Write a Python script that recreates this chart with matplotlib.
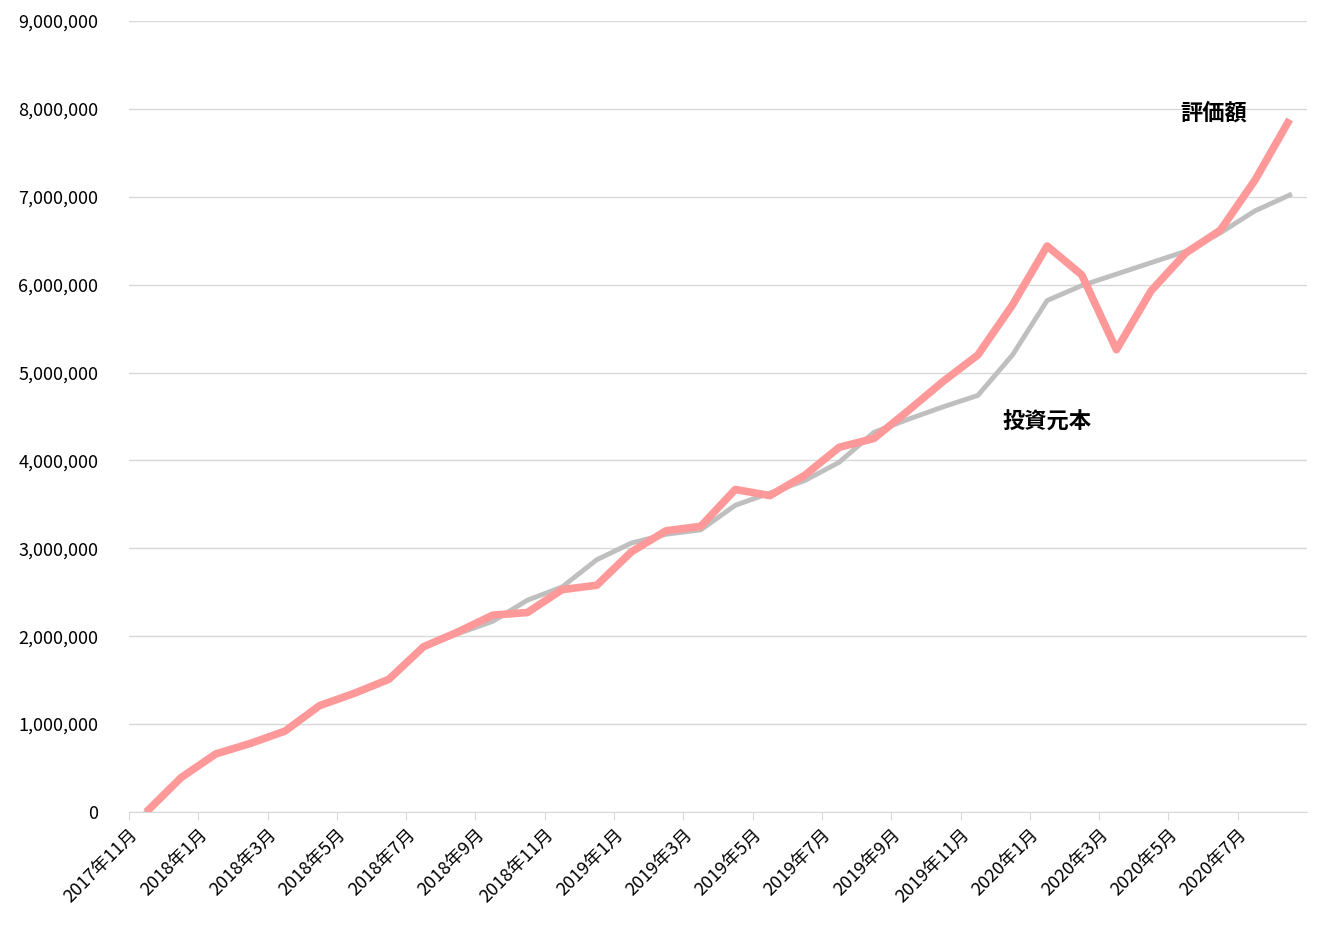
import matplotlib
matplotlib.use("Agg")
import matplotlib.pyplot as plt
from matplotlib.ticker import FuncFormatter

plt.rcParams['font.family'] = ['Noto Sans CJK JP', 'DejaVu Sans']

months = []
y, m = 2017, 11
for _ in range(34):
    months.append(f"{y}年{m}月")
    m += 1
    if m > 12:
        m = 1; y += 1

valuation = [0, 0.39, 0.66, 0.78, 0.92, 1.21, 1.35, 1.51, 1.88, 2.05, 2.24, 2.27,
             2.53, 2.58, 2.96, 3.20, 3.25, 3.67, 3.60, 3.83, 4.15, 4.25, 4.57, 4.90,
             5.20, 5.77, 6.44, 6.11, 5.26, 5.93, 6.36, 6.62, 7.19, 7.88]
principal = [0, 0.39, 0.66, 0.78, 0.92, 1.21, 1.35, 1.51, 1.88, 2.03, 2.17, 2.41,
             2.56, 2.87, 3.06, 3.16, 3.21, 3.49, 3.63, 3.77, 3.98, 4.32, 4.47, 4.61,
             4.74, 5.20, 5.82, 5.99, 6.12, 6.25, 6.38, 6.59, 6.84, 7.02]
valuation = [v * 1e6 for v in valuation]
principal = [v * 1e6 for v in principal]

fig = plt.figure(figsize=(13.44, 9.44), dpi=100)
ax = fig.add_axes([129/1344, 1 - 812/944, (1307-129)/1344, (812-21)/944])

x = list(range(len(months)))
ax.plot(x, principal, color='#bfbfbf', lw=3.5, zorder=2)
ax.plot(x, valuation, color='#ff9999', lw=5.5, zorder=3, solid_capstyle='butt')

ax.set_xlim(-0.5, len(months) - 0.5)
ax.set_ylim(0, 9e6)
ax.set_yticks([i * 1e6 for i in range(10)])
ax.yaxis.set_major_formatter(FuncFormatter(lambda v, p: f"{int(v):,}"))
ax.grid(axis='y', color='#d9d9d9', lw=1)
ax.set_axisbelow(True)

ticks = [i - 0.5 for i in range(0, len(months), 2)]
ax.set_xticks(ticks)
ax.set_xticklabels(months[::2], rotation=45, ha='right', rotation_mode='anchor', fontsize=13)
ax.tick_params(axis='x', length=6, color='#d9d9d9')
ax.tick_params(axis='y', length=0, labelsize=13, pad=22)
for s in ['top', 'right', 'left']:
    ax.spines[s].set_visible(False)
ax.spines['bottom'].set_color('#d9d9d9')

ax.text(30.8, 7.95e6, '評価額', fontsize=16, fontweight='bold', ha='center', va='center')
ax.text(26.0, 4.44e6, '投資元本', fontsize=16, fontweight='bold', ha='center', va='center')

fig.savefig('out.png', dpi=100)
